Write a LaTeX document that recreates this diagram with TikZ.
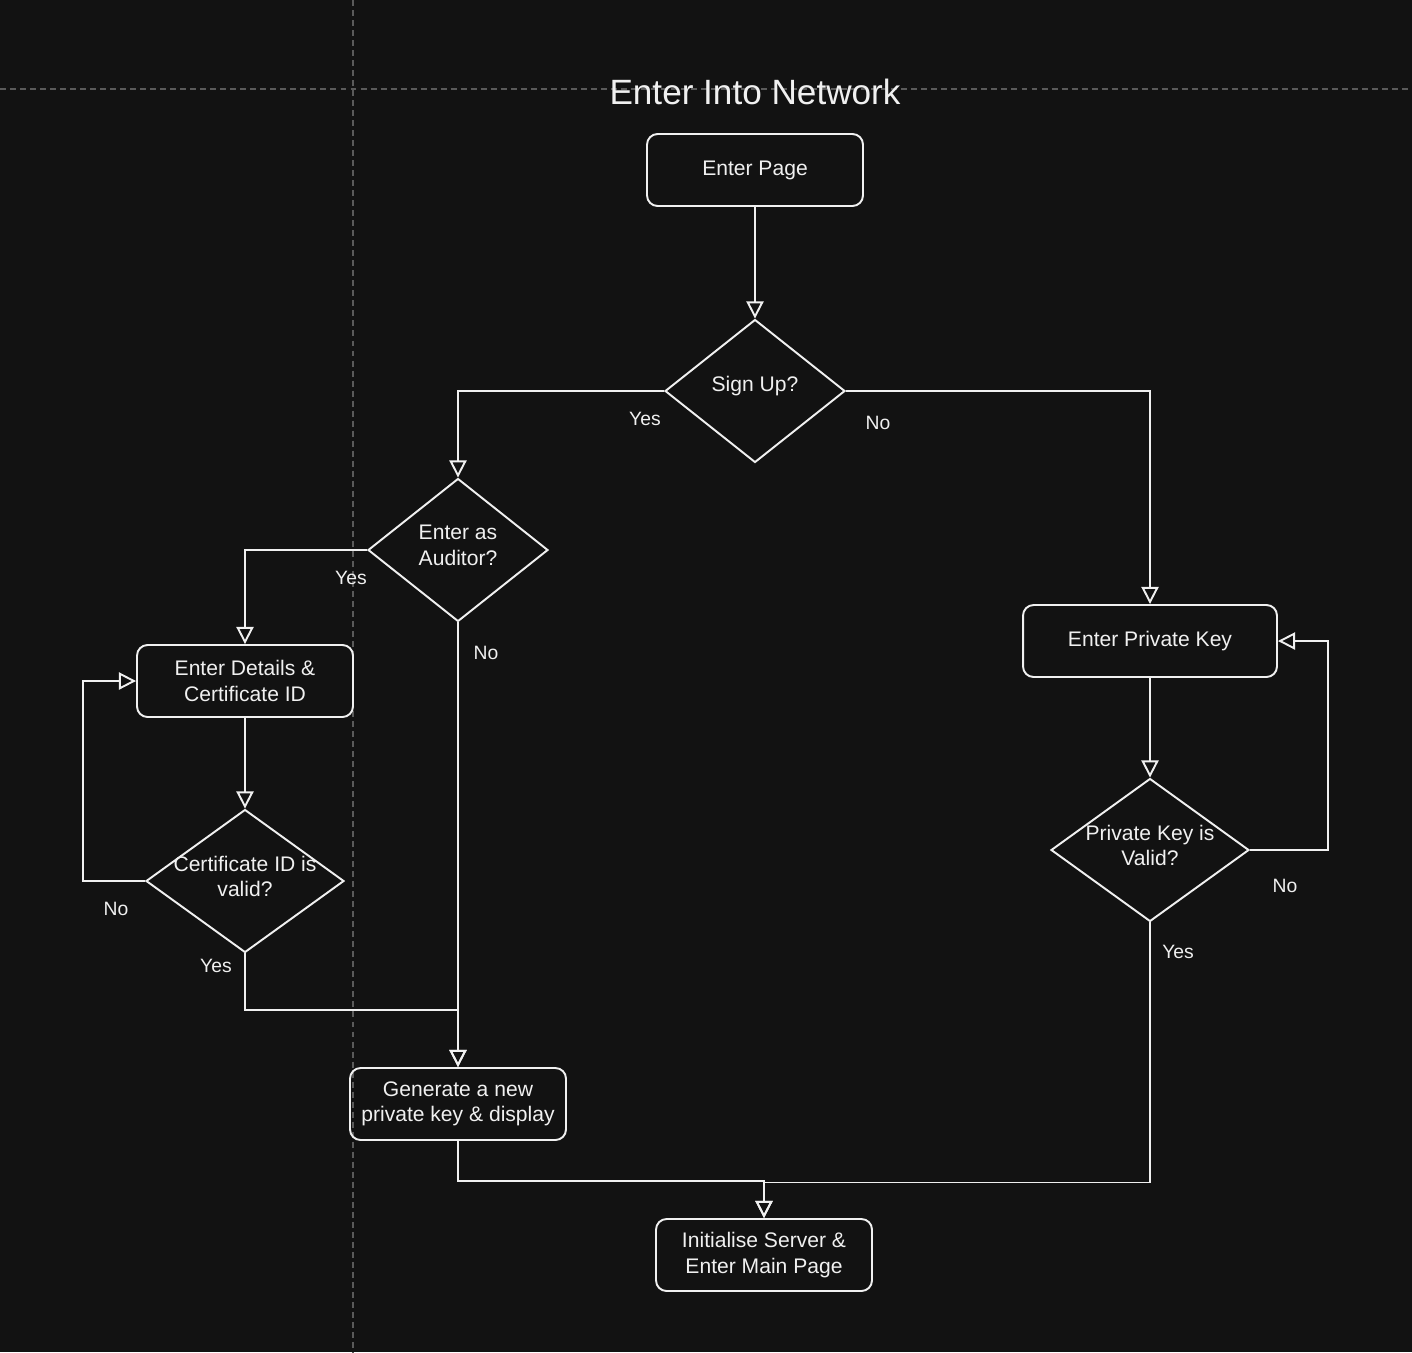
\documentclass[tikz,border=0pt]{standalone}
\usepackage{fontspec}
\setmainfont{Liberation Sans}
\usepackage{xcolor}
\usepackage{tikz}
\usetikzlibrary{shapes.geometric,arrows.meta,positioning}
\definecolor{canvas}{HTML}{121212}
\definecolor{ink}{HTML}{F0F0F0}
\definecolor{guide}{HTML}{5A5A5A}

\begin{document}
\begin{tikzpicture}[
    x = 0.02cm, y = -0.02cm,
    every node/.style = {text = ink, font = \fontsize{12pt}{14.5pt}\selectfont},
    box/.style = {draw = ink, line width = 1.1pt, rounded corners = 6pt,
      minimum width = 4.32cm, minimum height = 1.44cm, align = center},
    decision/.style = {draw = ink, line width = 1.1pt, diamond, inner sep = 0pt,
      minimum width = #1, minimum height = 2.86cm},
    decision/.default = 3.6cm,
    question/.style = {align = center, yshift = 2.6pt},
    lbl/.style = {font = \fontsize{11pt}{13pt}\selectfont},
    flow/.style = {draw = ink, line width = 1.1pt,
      -{Triangle[open, length = 9.8pt, width = 9.8pt]}},
    guideline/.style = {draw = guide, line width = 0.7pt, dash pattern = on 3.4pt off 2.3pt}
  ]
  \fill[canvas] (0,0) rectangle (1412,1352);
  \useasboundingbox (0,0) rectangle (1412,1352);
  \draw[guideline] (0,89) -- (1412,89);
  \draw[guideline] (353,0) -- (353,1352);

  \node[font = \fontsize{20pt}{24pt}\selectfont] (title) at (755,92) {Enter Into Network};

  \node[box] (enter) at (755,170) {Enter Page};
  \node[decision, label = {[question]center:Sign Up?}] (signup) at (755,391) {};
  \node[decision, label = {[question]center:Enter as\\Auditor?}] (auditor) at (458,550) {};
  \node[box, minimum width = 5.08cm] (pkey) at (1150,641) {Enter Private Key};
  \node[box] (details) at (245,681) {Enter Details \&\\Certificate ID};
  \node[decision = 3.96cm, label = {[question]center:Certificate ID is\\valid?}] (cert) at (245,881) {};
  \node[decision = 3.96cm, label = {[question]center:Private Key is\\Valid?}] (valid) at (1150,850) {};
  \node[box] (gen) at (458,1104) {Generate a new\\private key \& display};
  \node[box] (init) at (764,1255) {Initialise Server \&\\Enter Main Page};

  \node[lbl] (signup-yes) at (645,419) {Yes};
  \node[lbl] (signup-no) at (878,423) {No};
  \node[lbl] (auditor-yes) at (351,578) {Yes};
  \node[lbl] (auditor-no) at (486,653) {No};
  \node[lbl] (cert-no) at (116,909) {No};
  \node[lbl] (cert-yes) at (216,966) {Yes};
  \node[lbl] (valid-no) at (1285,886) {No};
  \node[lbl] (valid-yes) at (1178,952) {Yes};

  \coordinate (join) at (458,1010);

  \draw[flow] (enter) -- (signup);
  \draw[flow] (signup.west) -| (auditor.north);
  \draw[flow] (signup.east) -| (pkey.north);
  \draw[flow] (auditor.west) -| (details.north);
  \draw[flow] (auditor.south) -- (gen.north);
  \draw[flow] (details) -- (cert);
  \draw[flow] (cert.west) -- ++(-62,0) |- (details.west);
  \draw[flow] (cert.south) |- (join) -- (gen.north);
  \draw[flow] (pkey) -- (valid);
  \draw[flow] (valid.east) -- ++(78,0) |- (pkey.east);
  \draw[flow] (valid.south) -- ++(0,260) -| (init.north);
  \draw[flow] (gen.south) -- ++(0,40) -| (init.north);
\end{tikzpicture}
\end{document}
